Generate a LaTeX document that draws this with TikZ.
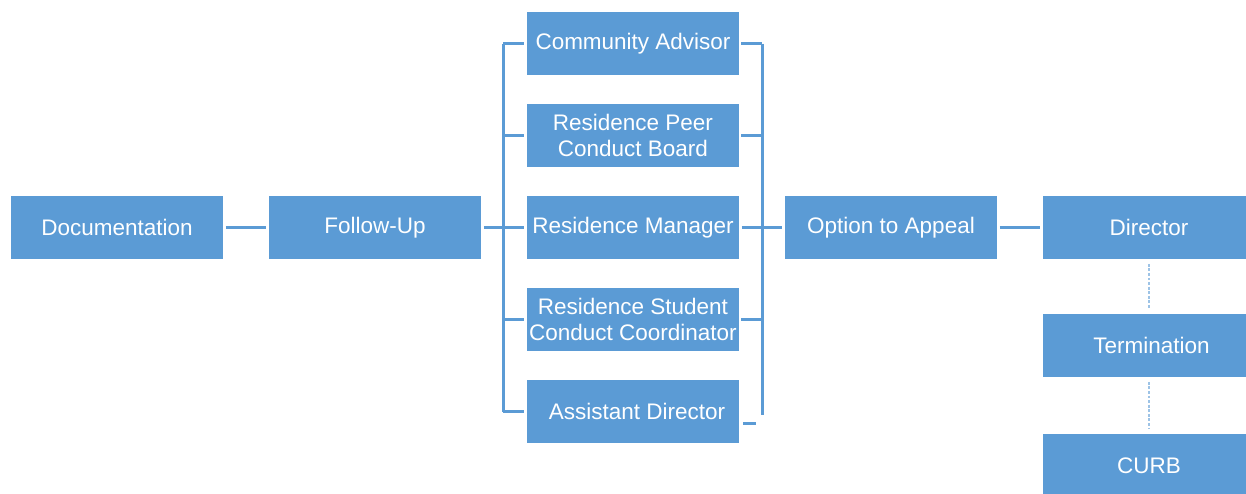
\documentclass[tikz,border=0pt]{standalone}
\usepackage{fontspec}
\setmainfont{Liberation Sans}
\usetikzlibrary{positioning}
\usetikzlibrary{calc}
\definecolor{box colour}{HTML}{5B9BD5}
\definecolor{link colour}{HTML}{5B9BD5}
\definecolor{faint colour}{HTML}{9DC3E6}
\tikzset{
    % Define a set of styles
    % First the fill
    box fill/.style={fill=box colour},
    % Next some lines
    link/.style={draw=link colour, line width=1.6pt},
    faint link/.style={draw=faint colour, line width=0.9pt,
        dash pattern=on 1.6pt off 1pt, shorten <=0.09cm, shorten >=0.1cm},
    % Small gap where a line meets a box
    gap/.style={shorten <=0.05cm, shorten >=0.05cm},
    % We almost always want centre aligned node text
    every node/.style={align=center},
}

\begin{document}
\begin{tikzpicture}[
    box/.style={rectangle, box fill, text=white, inner sep=0,
        minimum width=4.24cm, minimum height=1.26cm,
        font=\fontsize{12.8}{14.8}\selectfont},
    x=5.16cm, y=1.84cm,
]
\useasboundingbox (-2.34cm,4.55cm) rectangle (22.58cm,-5.31cm);

\path
    (0,0) node (documentation) [box] {Documentation}
    ++(1,0) node (follow up) [box] {Follow-Up}
    ++(1,0) node (manager) [box] {Residence Manager}
    +(0,2) node (advisor) [box] {Community Advisor}
    +(0,1) node (peer board) [box] {Residence Peer\\Conduct Board}
    +(0,-1) node (coordinator) [box] {Residence Student\\Conduct Coordinator}
    +(0,-2) node (assistant) [box] {\hspace{0.16cm}Assistant Director}
    ++(1,0) node (appeal) [box] {Option to Appeal}
    ++(1,0) node (director) [box] {Director}
    +(0,-1.283) node (termination) [box] {\hspace{0.1cm}Termination}
    +(0,-2.587) node (curb) [box] {CURB};

\draw [link, gap] (documentation) -- (follow up);
\draw [link, gap] (follow up) -- (manager);
\draw [link, gap] (manager) -- (appeal);
\draw [link, gap] (appeal) -- (director);

% Buses either side of the middle column
\path (follow up.east) ++(0.44cm,0) coordinate (left bus);
\path (manager.east) ++(0.46cm,0) coordinate (right bus);
\draw [link] (left bus |- advisor) -- (left bus |- assistant);
\foreach \n in {advisor, peer board, coordinator, assistant}
    \draw [link, shorten >=0.05cm] (left bus |- \n) -- (\n);
\draw [link] (right bus |- advisor) -- ([yshift=-0.06cm]right bus |- assistant);
\foreach \n in {advisor, peer board, coordinator}
    \draw [link, shorten <=0.04cm] (\n) -- (right bus |- \n);

% Loose end below the right bus
\path ([yshift=-0.24cm]assistant.east) ++(0.34cm,0) coordinate (stub end);
\draw [link, shorten <=0.08cm] ([yshift=-0.24cm]assistant.east) -- (stub end);

\draw [faint link] (director) -- (termination);
\draw [faint link] (termination) -- (curb);

\end{tikzpicture}
\end{document}
